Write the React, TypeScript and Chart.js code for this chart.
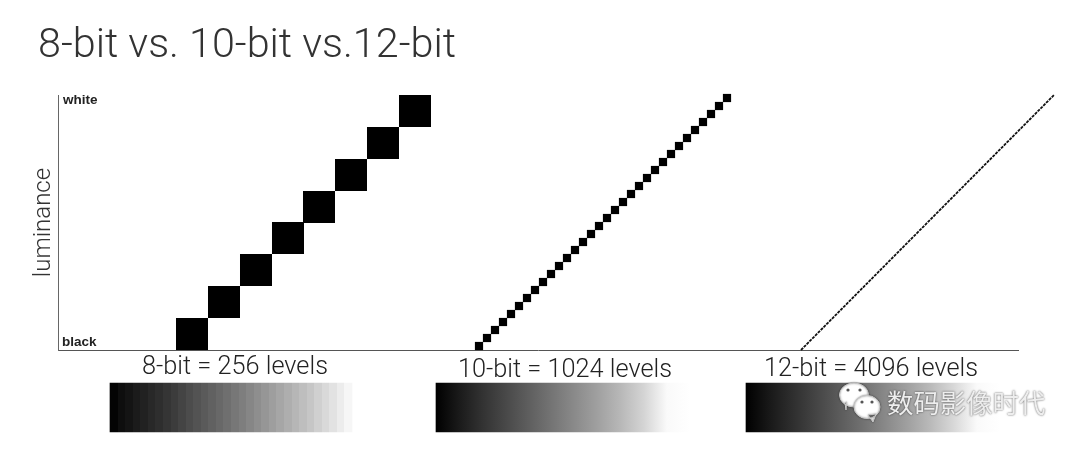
import React, { useEffect, useRef } from "react";
import { Chart, registerables } from "chart.js";

Chart.register(...registerables);

const eightBitX = [134, 166, 198, 230, 261, 293, 325, 357];
const eightBitY = [16, 48, 80, 112, 143, 175, 207, 239];
const tenBitX = [421, 429, 437, 445, 453, 461, 469, 477, 485, 493, 501, 509, 517, 525, 533, 541, 549, 557, 565, 573, 581, 589, 597, 605, 613, 621, 629, 637, 645, 653, 661, 669];
const tenBitY = [4, 12, 20, 28, 36, 44, 52, 60, 68, 76, 84, 92, 100, 108, 116, 124, 132, 140, 148, 156, 164, 172, 180, 188, 196, 204, 212, 220, 228, 236, 244, 252];
const twelveBitX = [743, 996];
const twelveBitY = [0, 255];

const stripCenters = [173, 505, 815];
const stripWidths = [242, 254, 254];
const stripRange: [number, number] = [-82, -33];
const eightBitGrays = [4, 14, 20, 27, 33, 40, 46, 53, 60, 68, 76, 83, 90, 97, 104, 111, 119, 126, 134, 142, 150, 158, 166, 174, 182, 190, 198, 208, 217, 226, 236, 246];
const tenBitGrays = [0, 26, 50, 72, 94, 116, 138, 160, 184, 212, 250, 255];
const twelveBitGrays = [0, 24, 46, 68, 90, 112, 136, 160, 186, 216, 250, 255];

const titleText = "8-bit vs. 10-bit vs.12-bit";
const axisTitle = "luminance";
const stripLabels = ["8-bit = 256 levels", "10-bit = 1024 levels", "12-bit = 4096 levels"];
const stripLabelX = [177, 507, 813];
const stripLabelY = [-18, -21, -20];
const watermark = "数码影像时代";

const rgb = (g: number) => `rgb(${g},${g},${g})`;

function stripFill(index: number, grays: number[], stepped: boolean) {
  return (ctx: any) => {
    const chart = ctx.chart;
    if (!chart.chartArea) return "#000";
    const xs = chart.scales.x;
    const left = xs.getPixelForValue(stripCenters[index] - stripWidths[index] / 2);
    const right = xs.getPixelForValue(stripCenters[index] + stripWidths[index] / 2);
    const g = chart.ctx.createLinearGradient(left, 0, right, 0);
    const n = grays.length;
    grays.forEach((v, i) => {
      if (stepped) {
        g.addColorStop(i / n, rgb(v));
        g.addColorStop((i + 1) / n, rgb(v));
      } else {
        g.addColorStop(i / (n - 1), rgb(v));
      }
    });
    return g;
  };
}

const textPlugin = {
  id: "textMarks",
  afterDraw(chart: any) {
    const { ctx, scales } = chart;
    const px = (v: number) => scales.x.getPixelForValue(v);
    const py = (v: number) => scales.y.getPixelForValue(v);
    ctx.save();
    ctx.textBaseline = "middle";
    ctx.textAlign = "left";
    ctx.fillStyle = "#333";
    ctx.font = '300 41.3px Roboto, "Liberation Sans", sans-serif';
    ctx.fillText(titleText, 38, 47);

    ctx.fillStyle = "#222";
    ctx.font = 'bold 13.5px "Liberation Sans", sans-serif';
    ctx.fillText("white", px(5), py(250));
    ctx.fillText("black", px(4), py(8));

    ctx.textAlign = "center";
    ctx.fillStyle = "#222";
    ctx.font = '300 25.3px Roboto, "Liberation Sans", sans-serif';
    stripLabels.forEach((t, i) => ctx.fillText(t, px(stripLabelX[i]), py(stripLabelY[i])));

    // watermark
    const bubble = (x: number, y: number, rx: number, ry: number, tx: number, ty: number, dir: number) => {
      ctx.beginPath();
      ctx.ellipse(x, y, rx, ry, 0, 0, Math.PI * 2);
      ctx.moveTo(tx, ty);
      ctx.lineTo(tx + dir * 5, ty + 7);
      ctx.lineTo(tx + dir * 8, ty - 1);
      ctx.closePath();
      ctx.fill();
      ctx.stroke();
    };
    ctx.lineWidth = 1;
    ctx.strokeStyle = "#c8c8c8";
    ctx.fillStyle = "#fff";
    ctx.shadowColor = "rgba(0,0,0,0.45)";
    ctx.shadowBlur = 2;
    bubble(854, 395, 14.5, 12, 845, 403, 0.2);
    bubble(867, 407, 13, 11.5, 868, 415, 1);
    ctx.shadowBlur = 0;
    ctx.fillStyle = "#555";
    [[848, 390], [860, 390], [862, 402], [872, 402]].forEach(([x, y]) => {
      ctx.beginPath();
      ctx.arc(x, y, 1.6, 0, Math.PI * 2);
      ctx.fill();
    });

    ctx.textAlign = "left";
    ctx.font = '26.4px "Noto Sans CJK SC", sans-serif';
    ctx.shadowColor = "rgba(0,0,0,0.7)";
    ctx.shadowBlur = 2;
    ctx.fillStyle = "#eee";
    ctx.fillText(watermark, 887, 403);
    ctx.restore();
  },
};

export default function App() {
  const ref = useRef<HTMLCanvasElement>(null);
  useEffect(() => {
    document.body.style.margin = "0";
    const toXY = (xs: number[], ys: number[]) => xs.map((x, i) => ({ x, y: ys[i] }));
    const chart = new Chart(ref.current as HTMLCanvasElement, {
      type: "scatter",
      data: {
        datasets: [
          {
            type: "bar",
            label: "8-bit strip",
            data: [{ x: stripCenters[0], y: stripRange }],
            barThickness: stripWidths[0],
            grouped: false,
            clip: false,
            backgroundColor: stripFill(0, eightBitGrays, true),
          },
          {
            type: "bar",
            label: "10-bit strip",
            data: [{ x: stripCenters[1], y: stripRange }],
            barThickness: stripWidths[1],
            grouped: false,
            clip: false,
            backgroundColor: stripFill(1, tenBitGrays, false),
          },
          {
            type: "bar",
            label: "12-bit strip",
            data: [{ x: stripCenters[2], y: stripRange }],
            barThickness: stripWidths[2],
            grouped: false,
            clip: false,
            backgroundColor: stripFill(2, twelveBitGrays, false),
          },
          {
            label: "8-bit",
            data: toXY(eightBitX, eightBitY),
            pointStyle: "rect",
            pointRadius: 22.63,
            pointBorderWidth: 0,
            backgroundColor: "#000",
            clip: false,
          },
          {
            label: "10-bit",
            data: toXY(tenBitX, tenBitY),
            pointStyle: "rect",
            pointRadius: 5.8,
            pointBorderWidth: 0,
            backgroundColor: "#000",
            clip: false,
          },
          {
            type: "line",
            label: "12-bit",
            data: toXY(twelveBitX, twelveBitY),
            borderColor: "#111",
            borderWidth: 1.8,
            borderDash: [3, 1],
            pointRadius: 0,
            clip: false,
          },
        ] as any,
      },
      plugins: [textPlugin],
      options: {
        animation: false,
        responsive: false,
        layout: { padding: { top: 95, right: 62, bottom: 100, left: 0 } },
        plugins: { legend: { display: false }, tooltip: { enabled: false } },
        scales: {
          x: {
            type: "linear",
            min: 0,
            max: 960,
            offset: false,
            grid: { display: false, drawTicks: false },
            border: { display: true, color: "#555", width: 1 },
            ticks: { display: false },
            afterFit: (s: any) => { s.height = 0; },
          },
          y: {
            type: "linear",
            min: 0,
            max: 255,
            grid: { display: false, drawTicks: false },
            border: { display: true, color: "#666", width: 1 },
            ticks: { display: false },
            title: {
              display: true,
              text: axisTitle,
              color: "#333",
              font: { family: 'Roboto, "Liberation Sans", sans-serif', size: 24, weight: "300", lineHeight: 1 },
              padding: { top: 32, bottom: 0 },
            },
            afterFit: (s: any) => { s.width = 58; },
          },
        },
      } as any,
    });
    return () => chart.destroy();
  }, []);
  return <canvas ref={ref} width={1080} height={450} style={{ display: "block" }} />;
}
